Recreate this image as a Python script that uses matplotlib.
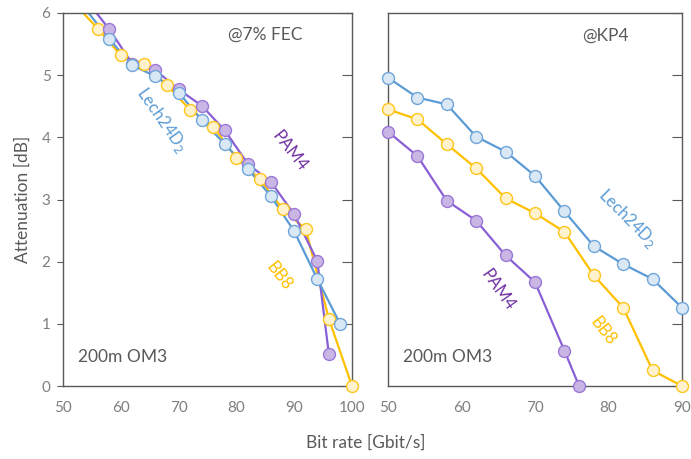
import matplotlib
matplotlib.use("Agg")
import matplotlib.pyplot as plt
from matplotlib.lines import TICKLEFT

plt.rcParams['font.family'] = ['Lato', 'DejaVu Sans']

# ---- data: left panel (@7% FEC) ----
fec_pam4_x = [54, 58, 62, 66, 70, 74, 78, 82, 86, 90, 94, 96]
fec_pam4_y = [6.21, 5.74, 5.18, 5.08, 4.77, 4.51, 4.11, 3.57, 3.28, 2.76, 2.01, 0.51]
fec_lech_x = [54, 58, 62, 66, 70, 74, 78, 82, 86, 90, 94, 98]
fec_lech_y = [6.05, 5.58, 5.16, 4.98, 4.72, 4.28, 3.89, 3.49, 3.05, 2.49, 1.72, 0.99]
fec_bb8_x = [52, 56, 60, 64, 68, 72, 76, 80, 84, 88, 92, 96, 100]
fec_bb8_y = [6.15, 5.75, 5.32, 5.18, 4.84, 4.44, 4.17, 3.67, 3.33, 2.85, 2.52, 1.08, 0.0]

# ---- data: right panel (@KP4) ----
kp4_x = [50, 54, 58, 62, 66, 70, 74, 78, 82, 86, 90]
kp4_lech_y = [4.96, 4.64, 4.53, 4.01, 3.77, 3.38, 2.81, 2.25, 1.96, 1.72, 1.26]
kp4_bb8_y = [4.45, 4.29, 3.89, 3.50, 3.02, 2.78, 2.48, 1.78, 1.26, 0.25, 0.0]
kp4_pam4_x = [50, 54, 58, 62, 66, 70, 74, 76]
kp4_pam4_y = [4.09, 3.70, 2.98, 2.66, 2.10, 1.67, 0.57, 0.0]

yticks = [0, 1, 2, 3, 4, 5, 6]
left_xticks = [50, 60, 70, 80, 90, 100]
right_xticks = [50, 60, 70, 80, 90]

styles = {
    'pam4': dict(color='#8a5fd6', mfc='#c9b6e4', mec='#9b78d8'),
    'lech': dict(color='#5b9bd5', mfc='#dae7f5', mec='#6fa6d9'),
    'bb8': dict(color='#ffc000', mfc='#fff2cc', mec='#ffc51a'),
}
label_colors = {'pam4': '#7030a0', 'lech': '#5b9bd5', 'bb8': '#ffc000'}

W, H = 691, 459
fig = plt.figure(figsize=(W / 100, H / 100), dpi=100)
axL = fig.add_axes([63 / W, 1 - 386 / H, (352 - 63) / W, (386 - 13) / H])
axR = fig.add_axes([388 / W, 1 - 386 / H, (682 - 388) / W, (386 - 13) / H])


def series(ax, x, y, key, ymax=6):
    st = styles[key]
    ax.plot(x, y, '-', color=st['color'], lw=1.6, zorder=2)
    vx = [a for a, b in zip(x, y) if b <= ymax]
    vy = [b for b in y if b <= ymax]
    ax.plot(vx, vy, 'o', ms=8.6, mfc=st['mfc'], mec=st['mec'], mew=1.0,
            clip_on=False, zorder=3, linestyle='none')


series(axL, fec_bb8_x, fec_bb8_y, 'bb8')
series(axL, fec_pam4_x, fec_pam4_y, 'pam4')
series(axL, fec_lech_x, fec_lech_y, 'lech')

series(axR, kp4_x, kp4_lech_y, 'lech')
series(axR, kp4_x, kp4_bb8_y, 'bb8')
series(axR, kp4_pam4_x, kp4_pam4_y, 'pam4')

for ax, xt in ((axL, left_xticks), (axR, right_xticks)):
    ax.set_ylim(0, 6)
    ax.set_xlim(xt[0], xt[-1])
    ax.set_xticks(xt)
    ax.set_yticks(yticks)
    for s in ax.spines.values():
        s.set_color('#595959')
        s.set_linewidth(1.0)
    ax.tick_params(axis='x', length=0, labelsize=11, labelcolor='#7f7f7f', pad=11)

# left panel: short outward ticks on the left, inward ticks on the right
axL.tick_params(axis='y', direction='in', length=7, left=True, right=True,
                color='#595959', labelsize=11, labelcolor='#7f7f7f', pad=9)
for t in axL.yaxis.get_major_ticks():
    t.tick1line.set_marker(TICKLEFT)
    t.tick1line.set_markersize(4)

axR.tick_params(axis='y', left=False, right=True, labelleft=False,
                direction='in', length=7, color='#595959')

axL.set_ylabel('Attenuation [dB]', fontsize=12.5, color='#595959', labelpad=8)
fig.text(366 / W, 1 - 443 / H, 'Bit rate [Gbit/s]', fontsize=12.5, color='#595959',
         ha='center', va='center')

txt = dict(fontsize=12.5, color='#595959', va='center')
fig.text(228 / W, 1 - 35 / H, '@7% FEC', **txt)
fig.text(582 / W, 1 - 36 / H, '@KP4', **txt)
fig.text(78 / W, 1 - 357 / H, '200m OM3', **txt)
fig.text(403 / W, 1 - 357 / H, '200m OM3', **txt)


def lab(x, y, s, key, rot):
    fig.text(x / W, 1 - y / H, s, fontsize=12, color=label_colors[key], rotation=rot,
             ha='center', va='center', rotation_mode='anchor')


lab(162, 120, 'Lech24D$_2$', 'lech', -55)
lab(290, 151, 'PAM4', 'pam4', -52)
lab(279, 276, 'BB8', 'bb8', -52)
lab(628, 218, 'Lech24D$_2$', 'lech', -45)
lab(498, 290, 'PAM4', 'pam4', -55)
lab(603, 331, 'BB8', 'bb8', -52)

fig.savefig('out.png', dpi=100)
